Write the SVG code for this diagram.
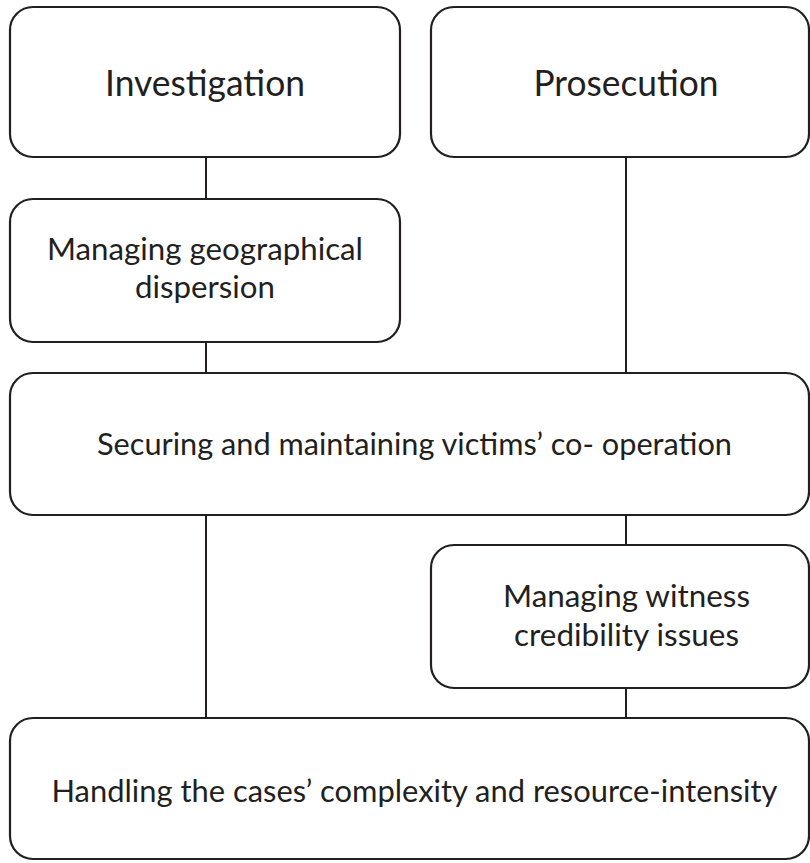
<svg xmlns="http://www.w3.org/2000/svg" width="810" height="863" viewBox="0 0 810 863">
<style>
.box{fill:#fff;stroke:#231f20;stroke-width:2.2}
.ln{stroke:#231f20;stroke-width:2;fill:none}
text{font-family:Lato,"Open Sans",sans-serif;fill:#231f20;text-anchor:middle}
.big{font-size:36px}
.mid{font-size:30px}
.sm{font-size:30.5px}
</style>
<rect width="810" height="863" fill="#fff"/>
<g id="connectors">
<line class="ln" x1="206" y1="157" x2="206" y2="199"/>
<line class="ln" x1="206" y1="342" x2="206" y2="373"/>
<line class="ln" x1="206" y1="515" x2="206" y2="718"/>
<line class="ln" x1="626" y1="157" x2="626" y2="373"/>
<line class="ln" x1="626" y1="515" x2="626" y2="545"/>
<line class="ln" x1="626" y1="688" x2="626" y2="718"/>
</g>
<g id="investigation">
<rect class="box" x="10" y="7" width="390" height="150" rx="23"/>
<text class="big" x="205" y="96" textLength="200" lengthAdjust="spacingAndGlyphs">Investigation</text>
</g>
<g id="prosecution">
<rect class="box" x="431" y="7" width="378" height="150" rx="23"/>
<text class="big" x="626" y="96" textLength="185" lengthAdjust="spacingAndGlyphs">Prosecution</text>
</g>
<g id="geo">
<rect class="box" x="10" y="199" width="390" height="143" rx="23"/>
<text class="mid" x="205" y="260" textLength="316" lengthAdjust="spacingAndGlyphs">Managing geographical</text>
<text class="mid" x="205" y="298" textLength="140" lengthAdjust="spacingAndGlyphs">dispersion</text>
</g>
<g id="victims">
<rect class="box" x="10" y="373" width="799" height="142" rx="23"/>
<text class="sm" x="414.5" y="455" textLength="635" lengthAdjust="spacingAndGlyphs">Securing and maintaining victims’ co- operation</text>
</g>
<g id="witness">
<rect class="box" x="431" y="545" width="378" height="143" rx="23"/>
<text class="mid" x="626.5" y="607" textLength="247" lengthAdjust="spacingAndGlyphs">Managing witness</text>
<text class="mid" x="626.5" y="646" textLength="225" lengthAdjust="spacingAndGlyphs">credibility issues</text>
</g>
<g id="complexity">
<rect class="box" x="10" y="718" width="799" height="141" rx="23"/>
<text class="sm" x="414.5" y="802" textLength="726" lengthAdjust="spacingAndGlyphs">Handling the cases’ complexity and resource-intensity</text>
</g>
</svg>
